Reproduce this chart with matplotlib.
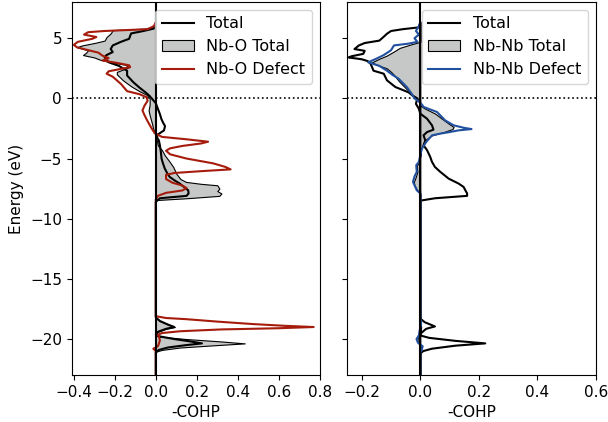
import numpy as np
import matplotlib.pyplot as plt

# Nb-O panel (energy in eV, -COHP)
E_tot_L = [6.3, 6.0, 5.8, 5.6, 5.4, 5.2, 4.95, 4.7, 4.4, 4.1, 3.85, 3.6, 3.43, 3.2, 3.0, 2.7, 2.3, 1.9, 1.35, 0.9, 0.5, 0.2, 0.0,
           -0.4, -0.86, -1.3, -1.7, -2.0, -2.3, -2.66, -3.0, -3.2, -3.5, -3.9, -4.5, -5.0, -5.4, -5.84, -6.2, -6.53, -6.8,
           -7.08, -7.4, -7.64, -7.9, -8.1, -8.3, -8.6, -18.2, -18.5, -18.8, -19.0, -19.15, -19.4, -19.6, -19.75, -20.0,
           -20.2, -20.36, -20.5, -20.7, -20.9, -21.1, -23.0]
tot_L = [0, -0.005, -0.01, -0.06, -0.12, -0.125, -0.13, -0.17, -0.21, -0.22, -0.21, -0.24, -0.25, -0.24, -0.23, -0.18, -0.14,
         -0.14, -0.11, -0.08, -0.05, -0.03, -0.02, 0.0, 0.01, 0.02, 0.027, 0.035, 0.045, 0.04, 0.01, 0.005, 0.015, 0.02, 0.025,
         0.028, 0.035, 0.044, 0.055, 0.068, 0.09, 0.117, 0.14, 0.158, 0.16, 0.15, 0.02, 0.0, 0.0, 0.02, 0.06, 0.09, 0.05, 0.01,
         0.0, 0.01, 0.09, 0.17, 0.225, 0.15, 0.06, 0.015, 0.0, 0.0]

E_nbo = [6.3, 6.0, 5.8, 5.67, 5.4, 5.1, 4.8, 4.6, 4.4, 4.25, 4.0, 3.8, 3.6, 3.4, 3.2, 3.0, 2.8, 2.6, 2.4, 2.2, 2.0, 1.5, 1.0,
         0.6, 0.3, 0.0, -0.5, -1.0, -1.4, -2.0, -2.5, -3.1, -3.5, -3.9, -4.3, -4.73, -5.28, -5.7, -6.25, -6.7, -6.94, -7.1,
         -7.22, -7.5, -7.7, -7.9, -8.1, -8.3, -8.45, -18.2, -18.5, -18.8, -19.0, -19.15, -19.4, -19.65, -19.8, -20.0, -20.2,
         -20.36, -20.5, -20.7, -20.9, -21.05, -23.0]
nbo_tot = [0, -0.01, -0.05, -0.21, -0.22, -0.24, -0.25, -0.3, -0.36, -0.385, -0.33, -0.34, -0.355, -0.3, -0.27, -0.22, -0.15,
           -0.13, -0.16, -0.19, -0.19, -0.16, -0.12, -0.08, -0.045, -0.03, -0.03, -0.035, -0.03, -0.02, -0.013, 0.0, 0.005,
           0.01, 0.03, 0.044, 0.068, 0.085, 0.1, 0.12, 0.147, 0.22, 0.3, 0.31, 0.3, 0.32, 0.31, 0.15, 0.0, 0.0, 0.02, 0.06,
           0.093, 0.05, 0.01, 0.0, 0.02, 0.15, 0.32, 0.434, 0.3, 0.12, 0.03, 0.0, 0.0]

E_nbo_d = [6.3, 6.0, 5.75, 5.6, 5.5, 5.3, 5.1, 4.95, 4.7, 4.45, 4.25, 4.05, 3.8, 3.55, 3.35, 3.15, 2.95, 2.75, 2.6, 2.45, 2.25,
           2.05, 1.8, 1.5, 1.2, 0.9, 0.6, 0.35, 0.1, -0.2, -0.6, -1.0, -1.4, -1.9, -2.5, -2.9, -3.2, -3.4, -3.6, -3.75, -3.95,
           -4.15, -4.35, -4.65, -5.0, -5.4, -5.7, -5.9, -6.05, -6.2, -6.35, -6.7, -7.0, -7.25, -7.45, -7.65, -7.85, -8.1, -8.4,
           -18.1, -18.25, -18.35, -18.55, -18.75, -18.9, -19.0, -19.1, -19.2, -19.35, -19.5, -19.65, -19.8, -20.1, -20.4,
           -20.6, -20.8, -21.0, -23.0]
nbo_def = [0, -0.01, -0.04, -0.25, -0.33, -0.35, -0.29, -0.31, -0.38, -0.4, -0.385, -0.34, -0.28, -0.26, -0.23, -0.26, -0.19,
           -0.13, -0.125, -0.17, -0.23, -0.24, -0.21, -0.19, -0.17, -0.155, -0.14, -0.08, -0.045, -0.04, -0.055, -0.065,
           -0.055, -0.04, -0.02, -0.005, 0.03, 0.15, 0.255, 0.22, 0.13, 0.07, 0.05, 0.07, 0.15, 0.28, 0.34, 0.365, 0.22, 0.09,
           0.05, 0.05, 0.08, 0.13, 0.15, 0.13, 0.05, 0.01, 0.0, 0.0, 0.05, 0.15, 0.3, 0.47, 0.63, 0.77, 0.6, 0.32, 0.12, 0.03,
           0.01, 0.015, 0.02, 0.015, 0.01, -0.012, 0.0, 0.0]

# Nb-Nb panel
E_tot_R = [6.3, 5.9, 5.75, 5.6, 5.37, 5.1, 4.8, 4.6, 4.4, 4.1, 3.95, 3.7, 3.5, 3.4, 3.25, 3.1, 2.88, 2.6, 2.3, 2.05, 1.5, 0.94,
           0.5, 0.2, 0.0, -0.45, -0.86, -1.27, -1.69, -2.24, -2.6, -2.8, -3.07, -3.5, -3.9, -4.3, -4.87, -5.28, -5.7, -6.1,
           -6.67, -7.08, -7.36, -7.64, -7.9, -8.1, -8.3, -8.5, -18.3, -18.6, -18.95, -19.15, -19.5, -19.7, -19.9, -20.15,
           -20.36, -20.55, -20.8, -21.0, -21.2, -23.0]
tot_R = [0, -0.005, -0.06, -0.1, -0.114, -0.126, -0.14, -0.19, -0.21, -0.225, -0.19, -0.195, -0.235, -0.245, -0.2, -0.18,
         -0.17, -0.165, -0.16, -0.125, -0.114, -0.085, -0.04, -0.025, -0.01, -0.015, -0.005, 0.0, 0.023, 0.04, 0.045, 0.023,
         0.011, 0.017, 0.011, 0.023, 0.034, 0.04, 0.05, 0.068, 0.097, 0.131, 0.148, 0.154, 0.16, 0.16, 0.05, 0.0, 0.0, 0.015,
         0.05, 0.02, 0.003, 0.0, 0.03, 0.12, 0.222, 0.12, 0.04, 0.01, 0.0, 0.0]

E_nbnb = [6.3, 4.7, 4.5, 4.2, 3.9, 3.55, 3.3, 3.0, 2.8, 2.5, 2.2, 1.95, 1.4, 0.85, 0.3, -0.1, -0.6, -0.86, -1.27, -1.69, -2.1,
          -2.38, -2.55, -2.8, -3.07, -3.4, -3.8, -4.2, -4.8, -5.3, -5.6, -6.1, -6.5, -6.94, -7.22, -7.64, -7.9, -18.5, -19.0,
          -19.5, -19.8, -20.1, -20.4, -20.7, -21.0, -23.0]
nbnb_tot = [0, 0, -0.03, -0.07, -0.09, -0.115, -0.14, -0.165, -0.15, -0.115, -0.1, -0.09, -0.072, -0.05, -0.027, -0.005,
            0.0, 0.017, 0.051, 0.074, 0.097, 0.114, 0.11, 0.08, 0.04, 0.02, 0.01, 0.003, 0.0, -0.005, -0.012, -0.01, -0.015,
            -0.022, -0.02, -0.01, 0.0, 0.0, 0.003, 0.0, -0.008, -0.01, -0.005, 0.005, 0.0, 0.0]

E_nbnb_d = [6.3, 6.0, 5.6, 5.3, 5.0, 4.7, 4.55, 4.4, 4.0, 3.6, 3.3, 3.0, 2.7, 2.3, 1.95, 1.63, 0.94, 0.4, 0.0, -0.35, -0.72,
            -1.13, -1.55, -1.83, -2.24, -2.45, -2.55, -2.66, -2.8, -2.93, -3.07, -3.63, -4.2, -4.73, -5.28, -5.56, -6.1, -6.5,
            -6.94, -7.22, -7.64, -7.9, -18.3, -18.7, -19.0, -19.7, -20.0, -20.3, -20.6, -20.9, -21.1, -23.0]
nbnb_def = [0, -0.005, -0.015, -0.005, -0.02, -0.01, -0.04, -0.09, -0.1, -0.125, -0.15, -0.178, -0.14, -0.114, -0.095,
            -0.074, -0.046, -0.03, -0.02, 0.0, 0.012, 0.057, 0.074, 0.085, 0.114, 0.15, 0.175, 0.13, 0.1, 0.068, 0.04, 0.02,
            0.005, 0.0, -0.005, -0.014, -0.012, -0.02, -0.025, -0.02, -0.012, 0.0, 0.0, 0.003, 0.0, -0.005, -0.013, -0.008,
            0.008, 0.005, 0.0, 0.0]

gray = "#c5c8c6"
red = "#a61c0c"
blue = "#21509e"

fig = plt.figure(figsize=(6.08, 4.22), dpi=100)
ax1 = fig.add_axes([0.118, 0.111, 0.408, 0.884])
ax2 = fig.add_axes([0.571, 0.111, 0.409, 0.884], sharey=ax1)

ax1.plot(tot_L, E_tot_L, "k-", lw=1.5, label="Total", zorder=3)
ax1.fill_betweenx(E_nbo, 0, nbo_tot, facecolor=gray, edgecolor="k", lw=0.8, label="Nb-O Total", zorder=2)
ax1.plot(nbo_def, E_nbo_d, "-", color=red, lw=1.5, label="Nb-O Defect", zorder=4)

ax2.plot(tot_R, E_tot_R, "k-", lw=1.5, label="Total", zorder=3)
ax2.fill_betweenx(E_nbnb, 0, nbnb_tot, facecolor=gray, edgecolor="k", lw=0.8, label="Nb-Nb Total", zorder=2)
ax2.plot(nbnb_def, E_nbnb_d, "-", color=blue, lw=1.5, label="Nb-Nb Defect", zorder=4)

for ax in (ax1, ax2):
    ax.axvline(0, color="k", lw=1.5, zorder=5)
    ax.axhline(0, color="k", lw=1.2, ls=":", zorder=1)
    ax.set_xlabel("-COHP", fontsize=11)
    ax.tick_params(labelsize=11)
    ax.legend(loc="upper right", fontsize=11.5)

ax1.set_xlim(-0.41, 0.8)
ax1.set_xticks([-0.4, -0.2, 0.0, 0.2, 0.4, 0.6, 0.8])
ax2.set_xlim(-0.25, 0.6)
ax2.set_xticks([-0.2, 0.0, 0.2, 0.4, 0.6])
ax1.set_ylim(-23, 8)
ax1.set_yticks([5, 0, -5, -10, -15, -20])
ax1.set_ylabel("Energy (eV)", fontsize=11)
plt.setp(ax2.get_yticklabels(), visible=False)

fig.savefig("out.png", dpi=100)
